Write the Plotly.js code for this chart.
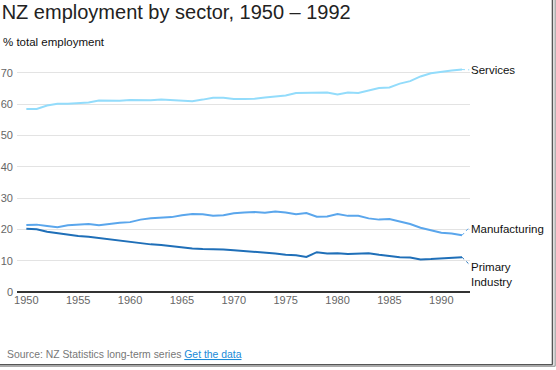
<!DOCTYPE html>
<html>
<head>
<meta charset="utf-8">
<script src="https://cdn.plot.ly/plotly-3.0.1.min.js"></script>
<style>html,body{margin:0;padding:0;background:#fff;}#chart{width:556px;height:370px;}</style>
</head>
<body>
<div id="chart"></div>
<script>
const years = [1950,1951,1952,1953,1954,1955,1956,1957,1958,1959,1960,1961,1962,1963,1964,1965,1966,1967,1968,1969,1970,1971,1972,1973,1974,1975,1976,1977,1978,1979,1980,1981,1982,1983,1984,1985,1986,1987,1988,1989,1990,1991,1992];
const services = [58.4,58.4,59.5,60.1,60.1,60.2,60.5,61.1,61.1,61.0,61.3,61.2,61.2,61.4,61.3,61.2,60.9,61.4,62.0,62.0,61.6,61.6,61.7,62.1,62.3,62.7,63.5,63.5,63.7,63.7,63.0,63.7,63.5,64.3,65.1,65.3,66.5,67.3,68.8,69.8,70.3,70.7,71.0];
const manufacturing = [21.4,21.5,21.1,20.7,21.3,21.6,21.7,21.3,21.8,22.1,22.3,23.1,23.5,23.6,23.9,24.5,24.9,24.8,24.3,24.5,25.1,25.4,25.5,25.3,25.7,25.4,24.8,25.2,24.0,24.1,24.9,24.3,24.3,23.5,23.1,23.3,22.4,21.7,20.5,19.6,18.9,18.7,18.1];
const primary = [20.2,20.0,19.2,18.7,18.3,17.9,17.6,17.2,16.8,16.3,16.0,15.5,15.2,15.0,14.6,14.3,13.9,13.7,13.7,13.6,13.3,13.1,12.9,12.7,12.3,11.9,11.7,11.2,12.7,12.3,12.4,12.1,12.3,12.4,11.9,11.5,11.1,11.0,10.4,10.5,10.7,10.7,11.1];
const seriesNames = ["Services","Manufacturing","Primary<br>Industry"];
const labelY = [70.9, 20.2, 5.6];
const connectorY = [70.9, 20.6, 8.8];
const xTicks = [1950,1955,1960,1965,1970,1975,1980,1985,1990];
const yTicks = [0,10,20,30,40,50,60,70];

const colors = ["#93dcfb","#5aa6ec","#1f6fb8"];
const seriesData = [services, manufacturing, primary];

const traces = [];
seriesData.forEach((vals, i) => {
  traces.push({x: years, y: vals, type: "scatter", mode: "lines",
    line: {color: colors[i], width: 2}, hoverinfo: "skip", showlegend: false});
});
seriesData.forEach((vals, i) => {
  const lastX = years[years.length-1];
  traces.push({x: [lastX, lastX + 0.7], y: [vals[vals.length-1], connectorY[i]],
    type: "scatter", mode: "lines", line: {color: colors[i], width: 1, dash: "dot"},
    hoverinfo: "skip", showlegend: false, cliponaxis: false});
});

const annotations = seriesNames.map((n, i) => ({
  xref: "paper", yref: "y", x: 0.998, y: labelY[i], xanchor: "left", yanchor: "middle",
  text: n, showarrow: false, align: "left",
  font: {family: "Liberation Sans, Arial, sans-serif", size: 11.5, color: "#111"}
}));
annotations.push({
  xref: "paper", yref: "paper", x: -0.035, y: 1.064, xanchor: "left", yanchor: "middle",
  text: "% total employment", showarrow: false,
  font: {family: "Liberation Sans, Arial, sans-serif", size: 11.5, color: "#111"}
});
annotations.push({
  xref: "paper", yref: "paper", x: -0.027, y: -0.266, xanchor: "left", yanchor: "middle",
  text: 'Source: NZ Statistics long-term series <span style="color:#1a8ad8;text-decoration:underline">Get the data</span>',
  showarrow: false,
  font: {family: "Liberation Sans, Arial, sans-serif", size: 10.4, color: "#777"}
});

const layout = {
  width: 556, height: 370,
  margin: {l: 17, r: 86, t: 57, b: 78, pad: 0},
  paper_bgcolor: "#fff", plot_bgcolor: "#fff",
  title: {text: "NZ employment by sector, 1950 – 1992", xref: "container", yref: "container",
    x: 0.003, xanchor: "left", y: 0.968, yanchor: "middle",
    font: {family: "Liberation Sans, Arial, sans-serif", size: 20, color: "#222"}},
  xaxis: {range: [1949.1, 1992.77], tickvals: xTicks, ticktext: xTicks.map(String),
    showgrid: false, zeroline: false, showline: false, ticks: "",
    tickfont: {family: "Liberation Sans, Arial, sans-serif", size: 11, color: "#666"}},
  yaxis: {range: [0, 75], tickvals: yTicks, ticktext: yTicks.map(String),
    showgrid: true, gridcolor: "#e3e3e3", gridwidth: 1,
    zeroline: true, zerolinecolor: "#333", zerolinewidth: 1.5,
    showline: false, ticks: "", ticklabelstandoff: 3,
    tickfont: {family: "Liberation Sans, Arial, sans-serif", size: 11, color: "#666"}},
  annotations: annotations,
  shapes: [
    {type: "line", xref: "paper", yref: "paper", x0: 1.182, x1: 1.182, y0: 1.25, y1: -0.31,
      line: {color: "#555", width: 1.5}},
    {type: "line", xref: "paper", yref: "paper", x0: -0.05, x1: 1.182, y0: -0.31, y1: -0.31,
      line: {color: "#555", width: 1.5}},
    {type: "line", xref: "paper", yref: "paper", x0: 1.188, x1: 1.188, y0: 1.25, y1: -0.316,
      line: {color: "#aaa", width: 1.5}},
    {type: "line", xref: "paper", yref: "paper", x0: -0.05, x1: 1.188, y0: -0.316, y1: -0.316,
      line: {color: "#aaa", width: 1.5}}
  ],
  showlegend: false
};

Plotly.newPlot("chart", traces, layout, {displayModeBar: false, staticPlot: true});
</script>
</body>
</html>
